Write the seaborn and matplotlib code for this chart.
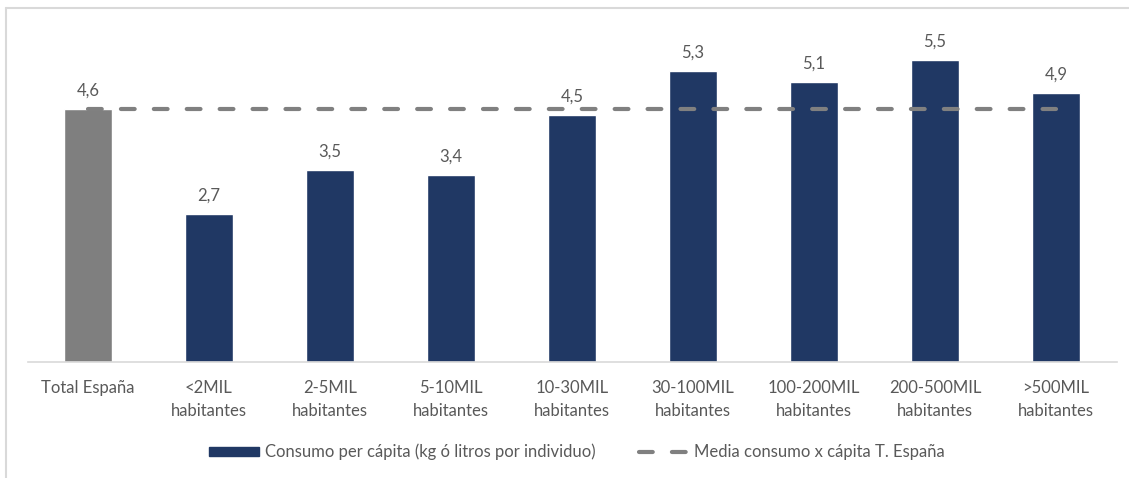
import matplotlib
matplotlib.use("Agg")
import matplotlib.pyplot as plt
import seaborn as sns
import pandas as pd
from matplotlib.patches import Patch
from matplotlib.lines import Line2D

categories = ["Total España", "<2MIL\nhabitantes", "2-5MIL\nhabitantes", "5-10MIL\nhabitantes",
              "10-30MIL\nhabitantes", "30-100MIL\nhabitantes", "100-200MIL\nhabitantes",
              "200-500MIL\nhabitantes", ">500MIL\nhabitantes"]
consumo = [4.6, 2.7, 3.5, 3.4, 4.5, 5.3, 5.1, 5.5, 4.9]
media_espana = 4.6
series_bar = "Consumo per cápita (kg ó litros por individuo)"
series_line = "Media consumo x cápita T. España"

NAVY = "#203864"
GRAY_BAR = "#7F7F7F"
LINE_GRAY = "#808080"
TEXT = "#595959"
FS = 12

sns.set_theme(style="white")
plt.rcParams["font.family"] = ["Lato", "DejaVu Sans"]

fig = plt.figure(figsize=(11.29, 4.78), dpi=100)
ax = fig.add_axes([27.5 / 1129, 116 / 478, 1089 / 1129, 330 / 478])

df = pd.DataFrame({"cat": categories, "val": consumo})
palette = {c: (GRAY_BAR if i == 0 else NAVY) for i, c in enumerate(categories)}
sns.barplot(data=df, x="cat", y="val", hue="cat", palette=palette, width=0.4,
            legend=False, ax=ax, saturation=1)

# mean line
ax.plot(range(len(categories)), [media_espana] * len(categories), color=LINE_GRAY, lw=3.0,
        dashes=(3.3, 4.6), dash_capstyle="round", zorder=3)

for i, v in enumerate(consumo):
    ax.annotate(f"{v:.1f}".replace(".", ","), xy=(i, v), xytext=(0, 9.5),
                textcoords="offset points", ha="center", va="baseline",
                fontsize=FS, color=TEXT)

ax.set_xlim(-0.5, len(categories) - 0.5)
ax.set_ylim(0, 6.0)
ax.set_xlabel("")
ax.set_ylabel("")
ax.set_yticks([])
ax.tick_params(axis="x", length=0, pad=13, labelsize=FS, labelcolor=TEXT)
for lbl in ax.get_xticklabels():
    lbl.set_linespacing(1.5)
for s in ["top", "right", "left"]:
    ax.spines[s].set_visible(False)
ax.spines["bottom"].set_color("#D9D9D9")
ax.spines["bottom"].set_linewidth(1.2)

handles = [Patch(facecolor=NAVY, edgecolor=NAVY, label=series_bar),
           Line2D([0], [0], color=LINE_GRAY, lw=3.0, dashes=(3.3, 4.6),
                  dash_capstyle="round", label=series_line)]
fig.legend(handles=handles, loc="center", bbox_to_anchor=(577 / 1129, 1 - 452 / 478),
           ncol=2, frameon=False, fontsize=FS, labelcolor=TEXT, handlelength=3.0,
           handleheight=0.5, handletextpad=0.35, columnspacing=2.6)

# chart frame
fig.add_artist(Line2D([6 / 1129, 6 / 1129], [0, 1 - 8 / 478], transform=fig.transFigure,
                      color="#D9D9D9", lw=1.5))
fig.add_artist(Line2D([6 / 1129, 1], [1 - 8 / 478, 1 - 8 / 478], transform=fig.transFigure,
                      color="#D9D9D9", lw=1.5))

fig.savefig("out.png", dpi=100, facecolor="white")
